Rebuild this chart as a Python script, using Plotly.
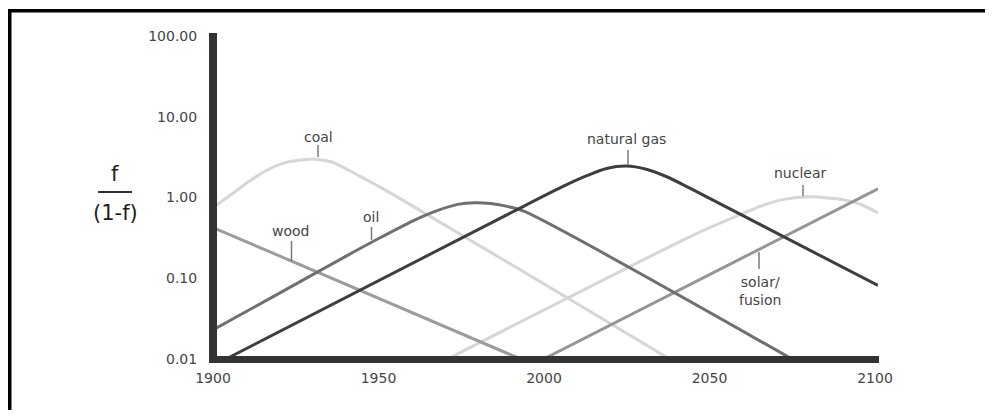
import plotly.graph_objects as go

# ---------------- data (f / (1-f)) ----------------
wood_years = [1900, 1992]
wood_vals = [0.41, 0.01]

coal_years = [1900, 1905, 1910, 1915, 1920, 1925, 1930, 1935, 1940, 1945, 1950, 2037]
coal_vals = [0.794, 1.122, 1.585, 2.138, 2.63, 2.884, 2.985, 2.754, 2.188, 1.698, 1.318, 0.01]

oil_years = [1900, 1920, 1940, 1950, 1960, 1967, 1973, 1978, 1983, 1988, 1993, 2074]
oil_vals = [0.024, 0.0684, 0.195, 0.324, 0.525, 0.692, 0.822, 0.861, 0.841, 0.776, 0.676, 0.01]

gas_years = [1903, 1990, 2005, 2012, 2018, 2024, 2030, 2036, 2043, 2100]
gas_vals = [0.01, 0.676, 1.38, 1.862, 2.291, 2.455, 2.239, 1.82, 1.318, 0.0813]

nuclear_years = [1970, 2045, 2055, 2065, 2072, 2079, 2085, 2090, 2095, 2100]
nuclear_vals = [0.01, 0.355, 0.537, 0.794, 0.955, 1.023, 0.989, 0.933, 0.813, 0.646]

solar_years = [1999, 2100]
solar_vals = [0.01, 1.28]

x_ticks = [1900, 1950, 2000, 2050, 2100]
x_ticktext = ["1900", "1950", "2000", "2050", "2100"]
y_ticks = [0.01, 0.1, 1, 10, 100]
y_ticktext = ["0.01", "0.10", "1.00", "10.00", "100.00"]

series_names = ["coal", "nuclear", "wood", "solar/fusion", "oil", "natural gas"]

# ---------------- layout geometry (screen pixels) ----------------
OFF = 8                      # page body margin of the browser
SW, SH = 993, 418            # window size
W, H = SW - 2 * OFF, SH - 2 * OFF    # figure size (kept inside the window)
L, R, T, B = 216, 878, 36, 359       # plot area edges in window pixels


def px(x):
    return (x - L) / (R - L)


def py(y):
    return (B - y) / (B - T)


FONT = "DejaVu Sans, Verdana, sans-serif"
TXT = "#454545"

fig = go.Figure()

styles = {
    "coal": "#d6d6d6",
    "nuclear": "#d6d6d6",
    "wood": "#9c9c9c",
    "solar/fusion": "#959595",
    "oil": "#707070",
    "natural gas": "#3e3e3e",
}
data = {
    "coal": (coal_years, coal_vals),
    "nuclear": (nuclear_years, nuclear_vals),
    "wood": (wood_years, wood_vals),
    "solar/fusion": (solar_years, solar_vals),
    "oil": (oil_years, oil_vals),
    "natural gas": (gas_years, gas_vals),
}
for name in series_names:
    xs, ys = data[name]
    fig.add_trace(go.Scatter(
        x=xs, y=ys, mode="lines", name=name,
        line=dict(color=styles[name], width=3, shape="spline", smoothing=0.8),
        hoverinfo="skip", showlegend=False,
    ))

shapes = []
# thick axes
shapes.append(dict(type="line", xref="paper", yref="paper",
                   x0=px(213), x1=px(213), y0=py(363), y1=py(33),
                   line=dict(color="#333333", width=8), layer="above"))
shapes.append(dict(type="line", xref="paper", yref="paper",
                   x0=px(209), x1=px(879), y0=py(359.5), y1=py(359.5),
                   line=dict(color="#333333", width=7), layer="above"))
# outer frame (top and left)
shapes.append(dict(type="line", xref="paper", yref="paper",
                   x0=px(8), x1=px(OFF + W), y0=py(10.75), y1=py(10.75),
                   line=dict(color="#000000", width=3.5), layer="above"))
shapes.append(dict(type="line", xref="paper", yref="paper",
                   x0=px(9.75), x1=px(9.75), y0=py(9), y1=py(OFF + H),
                   line=dict(color="#000000", width=3.5), layer="above"))
# fraction bar of the y title
shapes.append(dict(type="line", xref="paper", yref="paper",
                   x0=px(98), x1=px(132), y0=py(192), y1=py(192),
                   line=dict(color="#333333", width=2)))

# label leader ticks: (x, y_top, y_bottom)
leaders = [(318, 145, 157), (291.5, 241, 261), (371.5, 227, 240),
           (628, 150, 165), (803, 185, 196), (759, 252, 269)]
for lx, ly0, ly1 in leaders:
    shapes.append(dict(type="line", xref="paper", yref="paper",
                       x0=px(lx), x1=px(lx), y0=py(ly0), y1=py(ly1),
                       line=dict(color="#7a7a7a", width=1.5)))

annotations = []
labels = [("coal", 318, 137), ("wood", 290, 231), ("oil", 371, 217),
          ("natural gas", 626, 139), ("nuclear", 800, 173),
          ("solar/<br>fusion", 760, 291)]
for text, lx, ly in labels:
    annotations.append(dict(text=text, xref="paper", yref="paper",
                            x=px(lx), y=py(ly), xanchor="center", yanchor="middle",
                            showarrow=False,
                            font=dict(family=FONT, size=14, color=TXT)))
annotations.append(dict(text="f", xref="paper", yref="paper", x=px(115), y=py(174),
                        xanchor="center", yanchor="middle", showarrow=False,
                        font=dict(family=FONT, size=21, color="#1e1e1e")))
annotations.append(dict(text="(1-f)", xref="paper", yref="paper", x=px(115), y=py(213),
                        xanchor="center", yanchor="middle", showarrow=False,
                        font=dict(family=FONT, size=21, color="#1e1e1e")))

fig.update_layout(
    width=W, height=H,
    margin=dict(l=L - OFF, r=OFF + W - R, t=T - OFF, b=OFF + H - B, pad=0),
    paper_bgcolor="white", plot_bgcolor="white",
    showlegend=False,
    shapes=shapes, annotations=annotations,
    xaxis=dict(range=[1900, 2100], tickvals=x_ticks, ticktext=x_ticktext,
               showgrid=False, zeroline=False, showline=False,
               ticks="outside", ticklen=6, tickcolor="rgba(0,0,0,0)",
               ticklabelshift=-3,
               tickfont=dict(family=FONT, size=14, color=TXT), fixedrange=True),
    yaxis=dict(type="log", range=[-2, 2], tickvals=y_ticks, ticktext=y_ticktext,
               showgrid=False, zeroline=False, showline=False,
               ticks="outside", ticklen=15, tickcolor="rgba(0,0,0,0)",
               tickfont=dict(family=FONT, size=14, color=TXT), fixedrange=True),
)

fig.write_html("out.html")
